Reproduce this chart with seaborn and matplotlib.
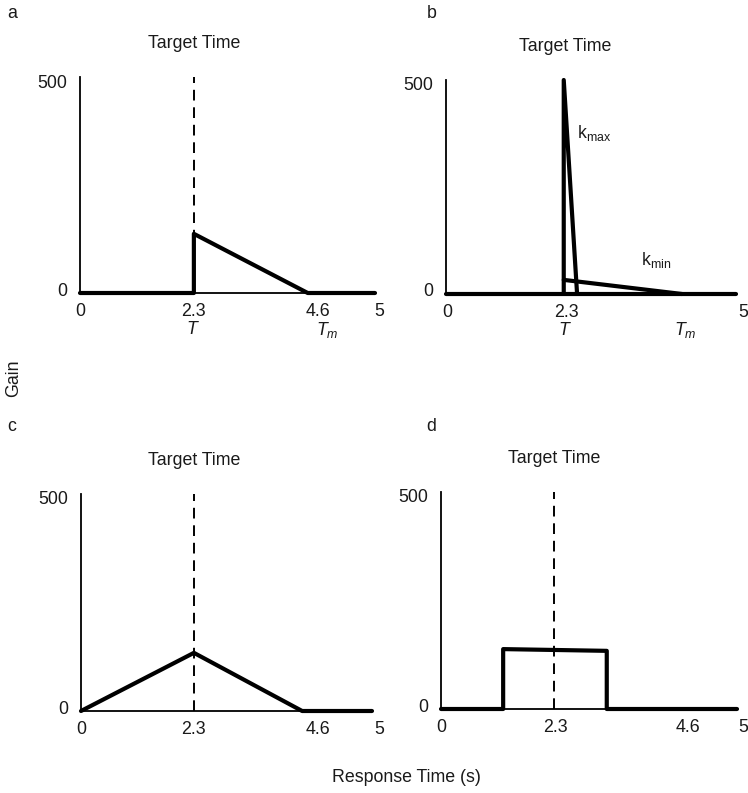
import matplotlib
matplotlib.use("Agg")
import matplotlib.pyplot as plt
import matplotlib.transforms as mtransforms
import seaborn as sns
import pandas as pd

# ---------------- data (x in axis units, 0..5 span of each panel) ----------------
# panel a
a_x = [0, 1.93, 1.93, 3.86, 5.0]
a_y = [0, 0, 137, 0, 0]
a_target = 1.93
a_ticks = [0, 1.93, 4.03, 5.07]
a_ticklabels = ["0", "2.3", "4.6", "5"]
a_T = 1.92
a_Tm = 4.15

# panel b
b_base_x = [0, 5.0]
b_base_y = [0, 0]
b_kmax_x = [2.03, 2.03, 2.26]
b_kmax_y = [0, 500, 0]
b_kmin_x = [2.03, 4.07]
b_kmin_y = [33, 0]
b_target = 2.05
b_ticks = [0.03, 2.07, 5.12]
b_ticklabels = ["0", "2.3", "5"]
b_T = 2.05
b_Tm = 4.09
b_kmax_label = (2.26, 377)
b_kmin_label = (3.36, 79)

# panel c
c_x = [0, 1.94, 3.80, 5.0]
c_y = [0, 134, 0, 0]
c_target = 1.94
c_ticks = [0, 1.94, 4.07, 5.12]
c_ticklabels = ["0", "2.3", "4.6", "5"]

# panel d
d_x = [0, 1.05, 1.05, 2.80, 2.80, 5.0]
d_y = [0, 0, 138, 134, 0, 0]
d_target = 1.91
d_ticks = [0, 1.93, 4.17, 5.10]
d_ticklabels = ["0", "2.3", "4.6", "5"]

y_ticks = [0, 500]
y_ticklabels = ["0", "500"]

# ---------------- style ----------------
sns.set_theme(style="white")
plt.rcParams["font.family"] = ["Liberation Sans", "DejaVu Sans"]
plt.rcParams["mathtext.fontset"] = "custom"
plt.rcParams["mathtext.rm"] = "Liberation Sans"
plt.rcParams["mathtext.it"] = "Liberation Sans:italic"
plt.rcParams["mathtext.bf"] = "Liberation Sans:bold"

FS = 12.8
TXT = "#1a1a1a"
W, H = 748, 793
fig = plt.figure(figsize=(W / 100, H / 100), dpi=100)


def make_ax(x0px, x5px, ytop, ybot):
    scale = (x5px - x0px) / 5.0
    width = 5.2 * scale
    ax = fig.add_axes([x0px / W, 1 - ybot / H, width / W, (ybot - ytop) / H])
    ax.set_xlim(0, 5.2)
    ax.set_ylim(0, 500)
    for s in ["top", "right"]:
        ax.spines[s].set_visible(False)
    for s in ["left", "bottom"]:
        ax.spines[s].set_color("black")
        ax.spines[s].set_linewidth(1.3)
    ax.spines["bottom"].set_bounds(0, 5)
    ax.set_yticks(y_ticks)
    ax.set_yticklabels(y_ticklabels)
    ax.tick_params(axis="both", length=0, labelsize=FS, colors=TXT)
    ax.tick_params(axis="y", pad=9)
    ax.tick_params(axis="x", pad=7)
    ax.patch.set_alpha(0)
    return ax


def shift_ylabels(ax):
    labs = ax.get_yticklabels()
    offs = [4 / 72, -4 / 72]  # "0" up, "500" down (inches = px/100 ~)
    for lab, dy in zip(labs, offs):
        lab.set_transform(lab.get_transform() +
                          mtransforms.ScaledTranslation(0, dy * 0.72, fig.dpi_scale_trans))


def curve(ax, x, y, lw=3.0):
    df = pd.DataFrame({"x": x, "y": y})
    sns.lineplot(data=df, x="x", y="y", sort=False, estimator=None, ax=ax,
                 color="black", lw=lw, clip_on=False)


def dashed(ax, xt):
    df = pd.DataFrame({"x": [xt, xt], "y": [0, 500]})
    sns.lineplot(data=df, x="x", y="y", sort=False, estimator=None, ax=ax,
                 color="black", lw=1.4, clip_on=False)
    ax.lines[-1].set_dashes([5.5, 3.5])


def title(ax, xt):
    tr = mtransforms.blended_transform_factory(ax.transData, ax.transAxes)
    ax.text(xt, 1.155, "Target Time", transform=tr, ha="center", va="center",
            fontsize=FS, color=TXT)


def under(ax, xt, s):
    tr = mtransforms.blended_transform_factory(ax.transData, ax.transAxes)
    ax.text(xt, -0.17, s, transform=tr, ha="center", va="center",
            fontsize=FS, color=TXT)


# panel a
ax_a = make_ax(80, 375, 77, 293)
dashed(ax_a, a_target)
curve(ax_a, a_x, a_y)
ax_a.set_xticks(a_ticks)
ax_a.set_xticklabels(a_ticklabels)
title(ax_a, a_target)
under(ax_a, a_T, "$T$")
under(ax_a, a_Tm + 0.04, "$T_m$")

# panel b
ax_b = make_ax(446, 736, 80, 294)
curve(ax_b, b_base_x, b_base_y)
curve(ax_b, b_kmax_x, b_kmax_y)
curve(ax_b, b_kmin_x, b_kmin_y)
ax_b.set_xticks(b_ticks)
ax_b.set_xticklabels(b_ticklabels)
title(ax_b, b_target)
under(ax_b, b_T, "$T$")
under(ax_b, b_Tm + 0.04, "$T_m$")
ax_b.text(*b_kmax_label, r"$\mathrm{k}_{\mathrm{max}}$", fontsize=FS,
          ha="left", va="center", color=TXT)
ax_b.text(*b_kmin_label, r"$\mathrm{k}_{\mathrm{min}}$", fontsize=FS,
          ha="left", va="center", color=TXT)

# panel c
ax_c = make_ax(81, 372, 494, 711)
dashed(ax_c, c_target)
curve(ax_c, c_x, c_y)
ax_c.set_xticks(c_ticks)
ax_c.set_xticklabels(c_ticklabels)
title(ax_c, c_target)

# panel d
ax_d = make_ax(441, 737, 492, 709)
dashed(ax_d, d_target)
curve(ax_d, d_x, d_y)
ax_d.set_xticks(d_ticks)
ax_d.set_xticklabels(d_ticklabels)
title(ax_d, d_target)

for ax in [ax_a, ax_b, ax_c, ax_d]:
    ax.set_xlabel("")
    ax.set_ylabel("")
    shift_ylabels(ax)

# panel letters and shared labels
for lbl, xp, yp in [("a", 12, 14), ("b", 432, 14), ("c", 12, 426), ("d", 431, 426)]:
    fig.text(xp / W, 1 - yp / H, lbl, ha="center", va="center", fontsize=FS,
             color=TXT)
fig.text(14 / W, 1 - 378 / H, "Gain", rotation=90, ha="center", va="center",
         fontsize=FS, color=TXT)
fig.text(406 / W, 1 - 778 / H, "Response Time (s)", ha="center", va="center",
         fontsize=FS, color=TXT)

fig.savefig("out.png", dpi=100)
